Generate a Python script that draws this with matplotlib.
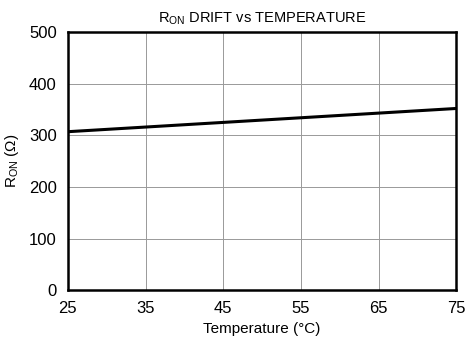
import matplotlib.pyplot as plt

plt.rcParams['font.family'] = ['Liberation Sans', 'DejaVu Sans']

# Data
temps = [25, 35, 45, 55, 65, 75]
ron = [307, 316, 325, 334, 343, 352]
x_ticks = [25, 35, 45, 55, 65, 75]
y_ticks = [0, 100, 200, 300, 400, 500]

fig = plt.figure(figsize=(4.65, 3.45), dpi=100)
ax = fig.add_axes([0.146, 0.159, 0.835, 0.748])

ax.plot(temps, ron, color='black', linewidth=2.2)

ax.set_xlim(25, 75)
ax.set_ylim(0, 500)
ax.set_xticks(x_ticks)
ax.set_yticks(y_ticks)
ax.tick_params(length=0, labelsize=12, pad=8)
ax.grid(True, color='#999999', linewidth=0.7)
for s in ax.spines.values():
    s.set_linewidth(1.8)

ax.set_title('R$_{\\mathregular{ON}}$ DRIFT vs TEMPERATURE', fontsize=10.5, pad=7)
ax.set_xlabel('Temperature (°C)', fontsize=11, labelpad=4)
ax.set_ylabel('R$_{\\mathregular{ON}}$ (Ω)', fontsize=11, labelpad=6)

fig.savefig('out.png', dpi=100)
